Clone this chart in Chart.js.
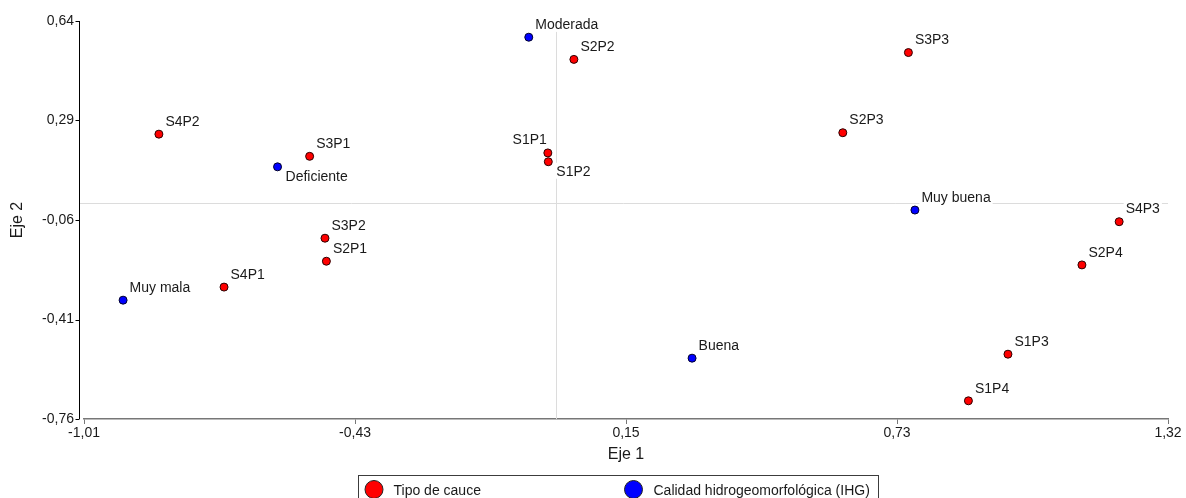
<!DOCTYPE html>
<html>
<head>
<meta charset="utf-8">
<script src="https://cdn.jsdelivr.net/npm/chart.js@4.4.1/dist/chart.umd.min.js"></script>
<style>
  html, body { margin: 0; padding: 0; background: #ffffff; }
  #wrap { width: 1186px; height: 498px; position: relative; }
</style>
</head>
<body>
<div id="wrap"><canvas id="biplot"></canvas></div>
<script>
// Ordination scores (Eje 1, Eje 2)
const cauceNames = ['S1P1', 'S1P2', 'S1P3', 'S1P4', 'S2P1', 'S2P2', 'S2P3', 'S2P4', 'S3P1', 'S3P2', 'S3P3', 'S4P1', 'S4P2', 'S4P3'];
const cauceX = [-0.017, -0.016, 0.972, 0.887, -0.493, 0.039, 0.617, 1.131, -0.529, -0.496, 0.758, -0.713, -0.853, 1.211];
const cauceY = [0.176, 0.145, -0.532, -0.696, -0.205, 0.505, 0.247, -0.218, 0.164, -0.124, 0.529, -0.296, 0.242, -0.066];

const ihgNames = ['Muy mala', 'Deficiente', 'Moderada', 'Buena', 'Muy buena'];
const ihgX = [-0.930, -0.598, -0.058, 0.293, 0.772];
const ihgY = [-0.342, 0.127, 0.583, -0.546, -0.025];

const seriesNames = ['Tipo de cauce', 'Calidad hidrogeomorfológica (IHG)'];

// Axis ticks
const xTickValues = [-1.014, -0.4315, 0.151, 0.7335, 1.316];
const xTickLabels = ['-1,01', '-0,43', '0,15', '0,73', '1,32'];
const yTickValues = [-0.76, -0.41, -0.06, 0.29, 0.64];
const yTickLabels = ['-0,76', '-0,41', '-0,06', '0,29', '0,64'];

const FONT = '"Liberation Sans", Arial, Helvetica, sans-serif';
const TEXT = '#1a1a1a';

// Where each point name sits relative to its marker (default: above right)
const labelPlacement = { 'Deficiente': 'below', 'S1P2': 'below', 'S1P1': 'aboveLeft' };

function toPoints(xs, ys) {
  return xs.map((x, i) => ({ x: x, y: ys[i] }));
}

const decorPlugin = {
  id: 'decor',
  beforeDatasetsDraw(chart) {
    const { ctx, chartArea: a, scales: { x, y } } = chart;
    ctx.save();

    // vertical axis, set slightly apart from the plot
    const ax = Math.round(a.left - 5) + 0.5;

    // origin reference lines
    ctx.strokeStyle = '#dcdcdc';
    ctx.lineWidth = 1;
    const x0 = Math.round(x.getPixelForValue(0)) + 0.5;
    const y0 = Math.round(y.getPixelForValue(0)) + 0.5;
    ctx.beginPath();
    ctx.moveTo(x0, a.top); ctx.lineTo(x0, a.bottom);
    ctx.moveTo(ax, y0); ctx.lineTo(a.right, y0);
    ctx.stroke();

    ctx.strokeStyle = '#000000';
    ctx.beginPath();
    ctx.moveTo(ax, a.top); ctx.lineTo(ax, a.bottom);
    yTickValues.forEach(v => {
      const py = Math.round(y.getPixelForValue(v)) + 0.5;
      ctx.moveTo(ax - 4, py); ctx.lineTo(ax, py);
    });
    ctx.stroke();

    // point names on a white backing
    ctx.font = '14px ' + FONT;
    ctx.textBaseline = 'alphabetic';
    chart.data.datasets.forEach((ds, di) => {
      const meta = chart.getDatasetMeta(di);
      meta.data.forEach((el, i) => {
        const name = ds.names[i];
        const w = ctx.measureText(name).width;
        const mode = labelPlacement[name] || 'above';
        let left, mid;
        if (mode === 'below') { left = el.x + 8; mid = el.y + 9; }
        else if (mode === 'aboveLeft') { left = el.x - 1 - w; mid = el.y - 14; }
        else { left = el.x + 6.5; mid = el.y - 13.3; }
        ctx.fillStyle = '#ffffff';
        ctx.fillRect(left - 2, mid - 8, w + 4, 16);
        ctx.fillStyle = TEXT;
        ctx.fillText(name, left, mid + 5);
      });
    });
    ctx.restore();
  },
  afterDraw(chart) {
    const { ctx } = chart;
    ctx.save();
    // legend
    ctx.strokeStyle = '#3c3c3c';
    ctx.lineWidth = 1;
    ctx.strokeRect(358.5, 475.5, 520, 40);
    const items = [
      { cx: 374, tx: 393.5 },
      { cx: 633.5, tx: 653.5 }
    ];
    ctx.font = '14px ' + FONT;
    ctx.textBaseline = 'alphabetic';
    chart.data.datasets.forEach((ds, di) => {
      const it = items[di];
      ctx.beginPath();
      ctx.arc(it.cx, 489.5, 9, 0, Math.PI * 2);
      ctx.fillStyle = ds.backgroundColor;
      ctx.fill();
      ctx.strokeStyle = '#222222';
      ctx.stroke();
      ctx.fillStyle = TEXT;
      ctx.fillText(ds.label, it.tx, 494.5);
    });
    ctx.restore();
  }
};

new Chart(document.getElementById('biplot'), {
  type: 'scatter',
  data: {
    datasets: [
      {
        label: seriesNames[0],
        names: cauceNames,
        data: toPoints(cauceX, cauceY),
        backgroundColor: '#ff0000',
        borderColor: '#2a0000',
        borderWidth: 1,
        pointRadius: 4,
        pointHoverRadius: 4
      },
      {
        label: seriesNames[1],
        names: ihgNames,
        data: toPoints(ihgX, ihgY),
        backgroundColor: '#0000ff',
        borderColor: '#00002a',
        borderWidth: 1,
        pointRadius: 4,
        pointHoverRadius: 4
      }
    ]
  },
  options: {
    responsive: true,
    maintainAspectRatio: false,
    animation: false,
    devicePixelRatio: 1,
    layout: { padding: { top: 21, right: 18, bottom: 0, left: 0 } },
    plugins: {
      legend: { display: false },
      tooltip: { enabled: false }
    },
    scales: {
      x: {
        type: 'linear',
        min: xTickValues[0],
        max: xTickValues[xTickValues.length - 1],
        afterBuildTicks: s => { s.ticks = xTickValues.map(v => ({ value: v })); },
        afterFit: s => { s.height = 79; },
        ticks: {
          callback: (v, i) => xTickLabels[i],
          font: { family: FONT, size: 14 },
          color: TEXT,
          padding: 1,
          maxRotation: 0,
          autoSkip: false
        },
        grid: { display: true, drawOnChartArea: false, drawTicks: true, tickLength: 5, color: '#777777', lineWidth: 1 },
        border: { display: true, color: '#777777', width: 1.5 },
        title: {
          display: true,
          text: 'Eje 1',
          font: { family: FONT, size: 16 },
          color: TEXT,
          padding: { top: 0, bottom: 34 }
        }
      },
      y: {
        type: 'linear',
        min: yTickValues[0],
        max: yTickValues[yTickValues.length - 1],
        afterBuildTicks: s => { s.ticks = yTickValues.map(v => ({ value: v })); },
        afterFit: s => { s.width = 84; },
        ticks: {
          callback: (v, i) => yTickLabels[i],
          font: { family: FONT, size: 14 },
          color: TEXT,
          padding: 10,
          autoSkip: false
        },
        grid: { display: false, drawTicks: false },
        border: { display: false },
        title: {
          display: true,
          text: 'Eje 2',
          font: { family: FONT, size: 16 },
          color: TEXT,
          padding: { top: 8, bottom: 0 }
        }
      }
    }
  },
  plugins: [decorPlugin]
});
</script>
</body>
</html>
